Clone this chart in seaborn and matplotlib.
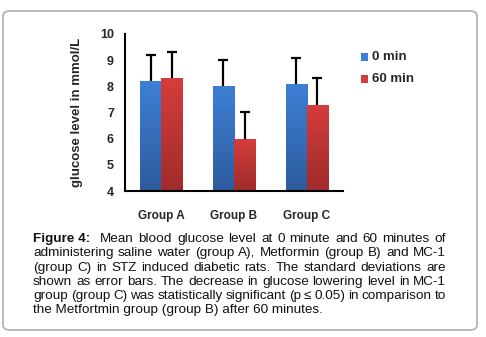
import numpy as np
import pandas as pd
import matplotlib
matplotlib.use("Agg")
import matplotlib.pyplot as plt
from matplotlib.colors import LinearSegmentedColormap
from matplotlib.patches import FancyBboxPatch
import seaborn as sns

groups = ["Group A", "Group B", "Group C"]
times = ["0 min", "60 min"]
glucose_0 = [8.2, 8.0, 8.1]
glucose_60 = [8.3, 6.0, 7.3]
sd_0 = [1.0, 1.0, 1.0]
sd_60 = [1.0, 1.0, 1.0]
y_ticks = [4, 5, 6, 7, 8, 9, 10]

caption_lines = [
    "Mean blood glucose level at 0 minute and 60 minutes of",
    "administering saline water (group A), Metformin (group B) and MC-1",
    "(group C) in STZ induced diabetic rats. The standard deviations are",
    "shown as error bars. The decrease in glucose lowering level in MC-1",
    "group (group C) was statistically significant (p \u2264 0.05) in comparison to",
    "the Metfortmin group (group B) after 60 minutes.",
]

df = pd.DataFrame({
    "group": groups * 2,
    "time": [times[0]] * 3 + [times[1]] * 3,
    "glucose": glucose_0 + glucose_60,
    "sd": sd_0 + sd_60,
})

sns.set_style("white")
plt.rcParams["font.family"] = ["Liberation Sans", "DejaVu Sans"]

W, H = 486, 337
fig = plt.figure(figsize=(W / 100, H / 100), dpi=100)
ax = fig.add_axes([125 / W, 1 - 191 / H, 218 / W, 157 / H])

top_colors = {"0 min": "#3d7fd6", "60 min": "#d43d3b"}
bot_colors = {"0 min": "#2d5c9c", "60 min": "#9f2c2b"}

sns.barplot(data=df, x="group", y="glucose", hue="time", order=groups,
            hue_order=times, palette=top_colors, errorbar=None,
            width=0.58, gap=0, ax=ax, legend=False, bottom=0)

ax.set_ylim(4, 10)
ax.set_xlim(-0.5, 2.5)

# gradient fill and upper-only error bars for each bar
bars = ax.patches
for i, p in enumerate(bars):
    t = times[i // 3]
    g = i % 3
    x0, w, h = p.get_x(), p.get_width(), p.get_height()
    cmap = LinearSegmentedColormap.from_list("g", [bot_colors[t], top_colors[t]])
    grad = np.linspace(0, 1, 100).reshape(-1, 1)
    im = ax.imshow(grad, cmap=cmap, origin="lower", aspect="auto",
                   extent=(x0, x0 + w, 4, h), zorder=2)
    im.set_clip_path(p)
    p.set_facecolor("none")
    p.set_edgecolor("none")
    sd = df.loc[(df["time"] == t) & (df["group"] == groups[g]), "sd"].iloc[0]
    _, caps, _ = ax.errorbar(x0 + w / 2, h, yerr=[[0], [sd]], fmt="none",
                             ecolor="black", elinewidth=1.6, capsize=3.5,
                             capthick=1.6, zorder=3)
    caps[0].set_visible(False)

ax.set_xlim(-0.5, 2.5)
ax.set_ylim(4, 10)
ax.set_yticks(y_ticks)
ax.set_xticks(range(3))
ax.set_xticklabels(groups, fontsize=8.5, fontweight="bold")
ax.set_xticks([-0.5, 0.5, 1.5, 2.5], minor=True)
ax.tick_params(axis="x", which="major", length=0, pad=14)
ax.tick_params(axis="x", which="minor", length=4, width=1.5, direction="out")
ax.tick_params(axis="y", length=4, width=1.5, direction="out", pad=4,
               labelsize=9)
for lab in ax.get_yticklabels():
    lab.set_fontweight("bold")
ax.set_xlabel("")
ax.set_ylabel("glucose level in mmol/L", fontsize=9.5, fontweight="bold",
              labelpad=12)
sns.despine(ax=ax)
for s in ("left", "bottom"):
    ax.spines[s].set_linewidth(1.5)
    ax.spines[s].set_color("black")

# legend
for j, t in enumerate(times):
    ly = 1 - (57 + 22 * j) / H
    fig.patches.append(plt.Rectangle((361 / W, ly - 3.5 / H), 7 / W, 7 / H,
                                     transform=fig.transFigure,
                                     facecolor=top_colors[t], edgecolor="none"))
    fig.text(372 / W, ly, t, fontsize=9.5, fontweight="bold", va="center",
             ha="left")

# rounded frame around the figure
fig.patches.append(FancyBboxPatch((3 / W, 7 / H), 474 / W, 319 / H,
                                  boxstyle="round,pad=0,rounding_size=0.015",
                                  transform=fig.transFigure, facecolor="none",
                                  edgecolor="#b4b4b4", linewidth=1.3))

# justified caption
fig.canvas.draw()
renderer = fig.canvas.get_renderer()
left_px, right_px = 33, 446
first_y = 242
line_h = 14.3
fs = 9.7


def text_width(s, weight="normal"):
    t = fig.text(0, 0, s, fontsize=fs, fontweight=weight)
    w = t.get_window_extent(renderer).width
    t.remove()
    return w


for li, line in enumerate(caption_lines):
    y = 1 - (first_y + li * line_h) / H
    if li == len(caption_lines) - 1:
        # last line of a justified paragraph stays left-aligned
        fig.text(left_px / W, y, line, fontsize=fs, va="baseline",
                 ha="left", color="#111111")
        continue
    words = line.split(" ")
    items = [(w, "normal") for w in words]
    if li == 0:
        items = [("Figure 4:", "bold"), ("", "normal")] + items
    widths = [text_width(w, wt) if w else 0 for w, wt in items]
    gap = (right_px - left_px - sum(widths)) / (len(items) - 1)
    x = left_px
    for (w, wt), wd in zip(items, widths):
        if w:
            fig.text(x / W, y, w, fontsize=fs, fontweight=wt, va="baseline",
                     ha="left", color="#111111")
        x += wd + gap

fig.savefig("out.png", dpi=100)
